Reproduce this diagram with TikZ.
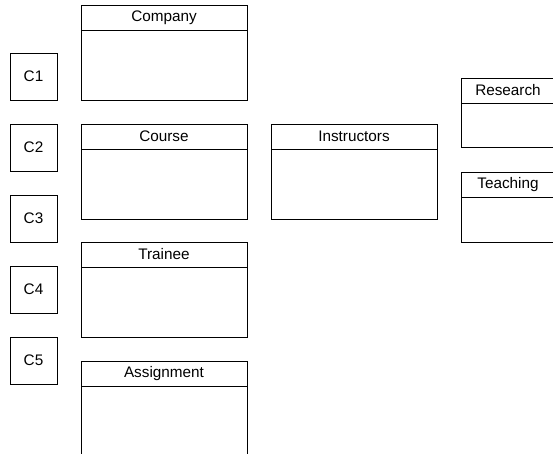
\documentclass[tikz,border=0pt]{standalone}
\usepackage{fontspec}
\setmainfont{Liberation Sans}
\usetikzlibrary{positioning}
\tikzstyle{cbox} = [rectangle, minimum width=47pt, minimum height=47pt, inner sep=0pt, outer sep=0pt, text centered, draw=black]
\tikzstyle{head} = [rectangle, minimum width=166pt, minimum height=25pt, inner sep=0pt, outer sep=0pt, text centered, draw=black, anchor=north west]
\tikzstyle{body} = [rectangle, minimum width=166pt, minimum height=70pt, inner sep=0pt, outer sep=0pt, draw=black]
\tikzstyle{smallhead} = [head, minimum width=94pt]
\tikzstyle{smallbody} = [body, minimum width=94pt, minimum height=45pt]

\begin{document}
\begin{tikzpicture}[x=1pt, y=-1pt, line width=0.75pt, font=\fontsize{15.3}{18}\selectfont]
\useasboundingbox (0,0) rectangle (553,454);

%\node (start) [cbox] {C0};

\node (c1) [cbox] at (33.5,76.5) {C1};
\node (c2) [cbox] at (33.5,147.5) {C2};
\node (c3) [cbox] at (33.5,218.5) {C3};
\node (c4) [cbox] at (33.5,289.5) {C4};
\node (c5) [cbox] at (33.5,360.5) {C5};

\node (company) [head] at (81,5) {Company};
\node (companybody) [body, below=0pt of company] {};

\node (course) [head] at (81,124) {Course};
\node (coursebody) [body, below=0pt of course] {};

\node (trainee) [head] at (81,242) {Trainee};
\node (traineebody) [body, below=0pt of trainee] {};

\node (assignment) [head] at (81,361) {Assignment};
\node (assignmentbody) [body, below=0pt of assignment] {};

\node (instructors) [head] at (271,124) {Instructors};
\node (instructorsbody) [body, below=0pt of instructors] {};

\node (research) [smallhead] at (461,78) {Research};
\node (researchbody) [smallbody, minimum height=44pt, below=0pt of research] {};

\node (teaching) [smallhead] at (461,172) {Teaching};
\node (teachingbody) [smallbody, below=0pt of teaching] {};

\end{tikzpicture}
\end{document}
